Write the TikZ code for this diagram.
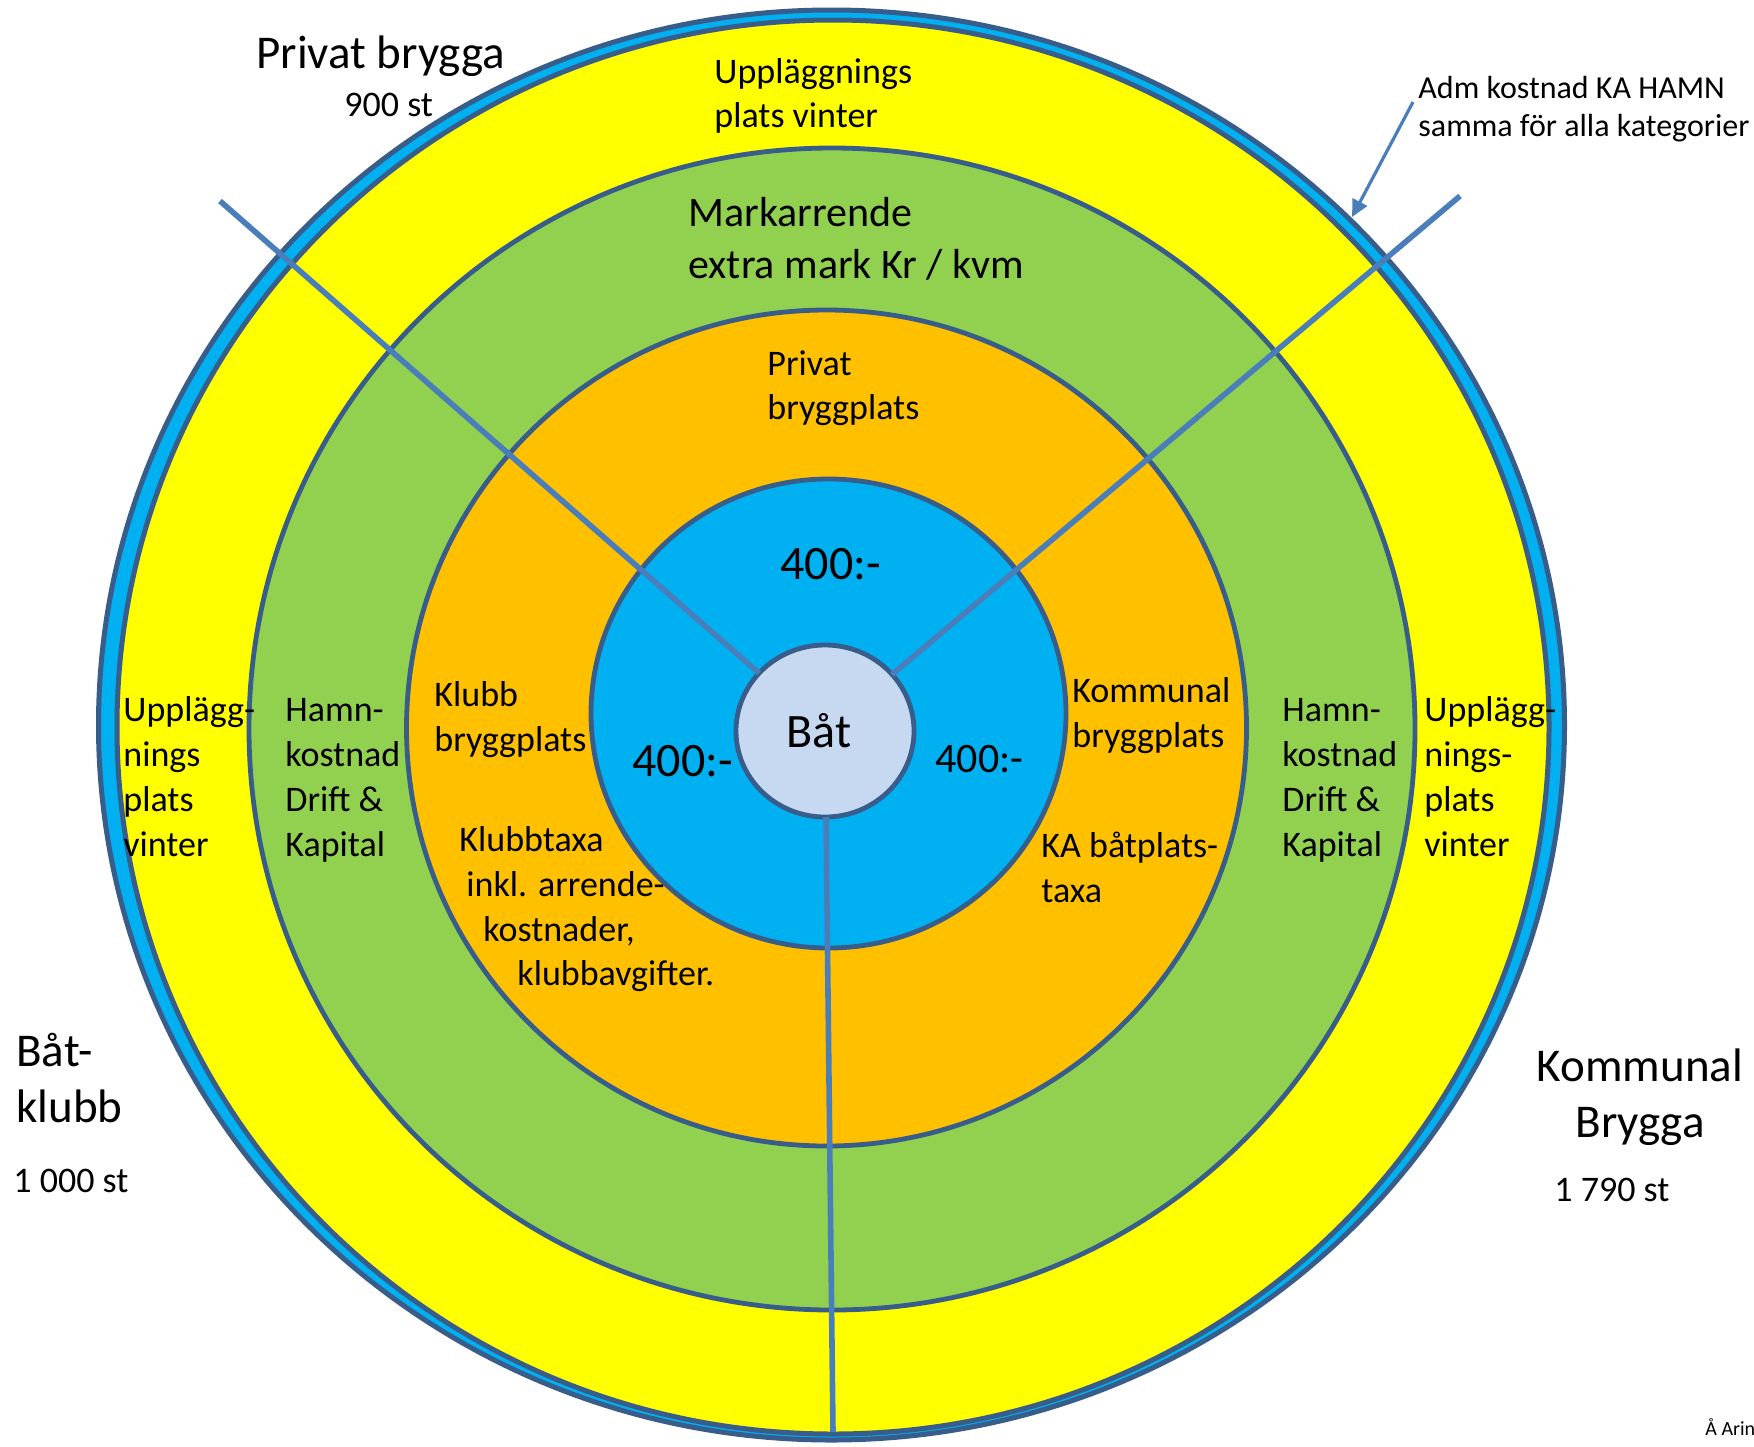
\documentclass[tikz,border=0pt]{standalone}
\usepackage{fontspec}
\setmainfont{Carlito}
\usetikzlibrary{shapes.geometric,arrows.meta}
\definecolor{ringline}{HTML}{385D8A}
\definecolor{spokecol}{HTML}{4A7EBB}
\definecolor{cyanband}{HTML}{00B0F0}
\definecolor{ylw}{HTML}{FFFF00}
\definecolor{grn}{HTML}{92D050}
\definecolor{org}{HTML}{FFC000}
\definecolor{lightc}{HTML}{C6D9F1}
\newcommand\ml[1]{\begin{tabular}[t]{@{}l@{}}#1\end{tabular}}
\newcommand\mc[1]{\begin{tabular}[t]{@{}c@{}}#1\end{tabular}}
\begin{document}
\begin{tikzpicture}[x=0.5pt,y=-0.5pt,
  ring/.style={ellipse, draw=ringline, line width=2.4pt, inner sep=0pt, outer sep=0pt},
  spokeline/.style={draw=spokecol, line width=2.8pt},
  txt/.style={inner sep=0pt, anchor=base west, font=\fontsize{18}{22.5}\selectfont},
  txtbig/.style={inner sep=0pt, anchor=base west, font=\fontsize{23.5}{28}\selectfont},
  txtnum/.style={inner sep=0pt, anchor=base west, font=\fontsize{24}{28}\selectfont}
]
\useasboundingbox (0,0) rectangle (1754,1446);
% rings
\node[ring, line width=2.5pt, fill=cyanband, minimum width=733pt, minimum height=715pt] (outer) at (831.5,725) {};
\node[ring, line width=2.5pt, fill=ylw, minimum width=716pt, minimum height=707pt] (yellow) at (833,727) {};
\node[ring, fill=grn, minimum width=583pt, minimum height=581pt] (green) at (832,729) {};
\node[ring, fill=org, minimum width=420pt, minimum height=418pt] (orange) at (826.5,728) {};
\node[ring, fill=cyanband, minimum width=237.5pt, minimum height=234.5pt] (blue) at (828.5,713.5) {};
\node[ring, fill=lightc, minimum width=89pt, minimum height=86pt] (bat) at (825,731) {};
% spokes
\coordinate (s1) at (220,201);
\coordinate (s2) at (1460,196);
\coordinate (s3) at (833,1432);
\draw[spokeline] (s1) -- (bat);
\draw[spokeline] (s2) -- (bat);
\draw[spokeline] (s3) -- (bat);
% annotation arrow
\coordinate (a1) at (1413,102);
\coordinate (a2) at (1352,217);
\draw[draw=spokecol, line width=1.6pt, -{Triangle[length=8.5pt,width=8pt]}, color=spokecol] (a1) -- (a2);
% texts
\node[txtbig] (t1) at (256,68) {Privat brygga};
\node[txt] (t2) at (344,116) {900 st};
\node[txt, font=\fontsize{18}{22}\selectfont] (t3) at (714,83) {\ml{Uppläggnings\\plats vinter}};
\node[txt, font=\fontsize{21}{26}\selectfont] (t4) at (688,226) {\ml{Markarrende\\extra mark Kr / kvm}};
\node[txt, font=\fontsize{16}{19}\selectfont] (t5) at (1418,98) {\ml{Adm kostnad KA HAMN\\samma för alla kategorier}};
\node[txt, font=\fontsize{18}{22}\selectfont] (t6) at (767,375) {\ml{Privat\\bryggplats}};
\node[txtnum] (t7) at (780,579) {400:-};
\node[txt] (t8) at (123,721) {\ml{Upplägg-\\nings\\plats\\vinter}};
\node[txt] (t9) at (285,721) {\ml{Hamn-\\kostnad\\Drift \&\\Kapital}};
\node[txt, font=\fontsize{18}{22.5}\selectfont] (t10) at (434,706) {\ml{Klubb\\bryggplats}};
\node[txtnum] (t11) at (632,776) {400:-};
\node[txtnum] (t12) at (786,747) {Båt};
\node[txt, font=\fontsize{21}{26}\selectfont] (t13) at (935,772) {400:-};
\node[txt, font=\fontsize{18}{22.5}\selectfont] (t14) at (1072,702) {\ml{Kommunal\\bryggplats}};
\node[txt] (t15) at (1282,721) {\ml{Hamn-\\kostnad\\Drift \&\\Kapital}};
\node[txt] (t16) at (1424,721) {\ml{Upplägg-\\nings-\\plats\\vinter}};
\node[txt] (t17) at (459,851) {Klubbtaxa};
\node[txt] (t18) at (466,896) {inkl. arrende-};
\node[txt] (t19) at (483,941) {kostnader,};
\node[txt] (t20) at (517,985) {klubbavgifter.};
\node[txt] (t21) at (1041,857) {\ml{KA båtplats-\\taxa}};
\node[txtbig] (t22) at (16,1066) {\ml{Båt-\\klubb}};
\node[txt] (t23) at (13,1192) {1 000 st};
\node[txtbig, anchor=base] (t24) at (1640,1081) {\mc{Kommunal\\Brygga}};
\node[txt] (t25) at (1554,1201) {1 790 st};
\node[txt, font=\fontsize{10}{12}\selectfont] (t26) at (1705,1435) {Å Arin};
\end{tikzpicture}
\end{document}
